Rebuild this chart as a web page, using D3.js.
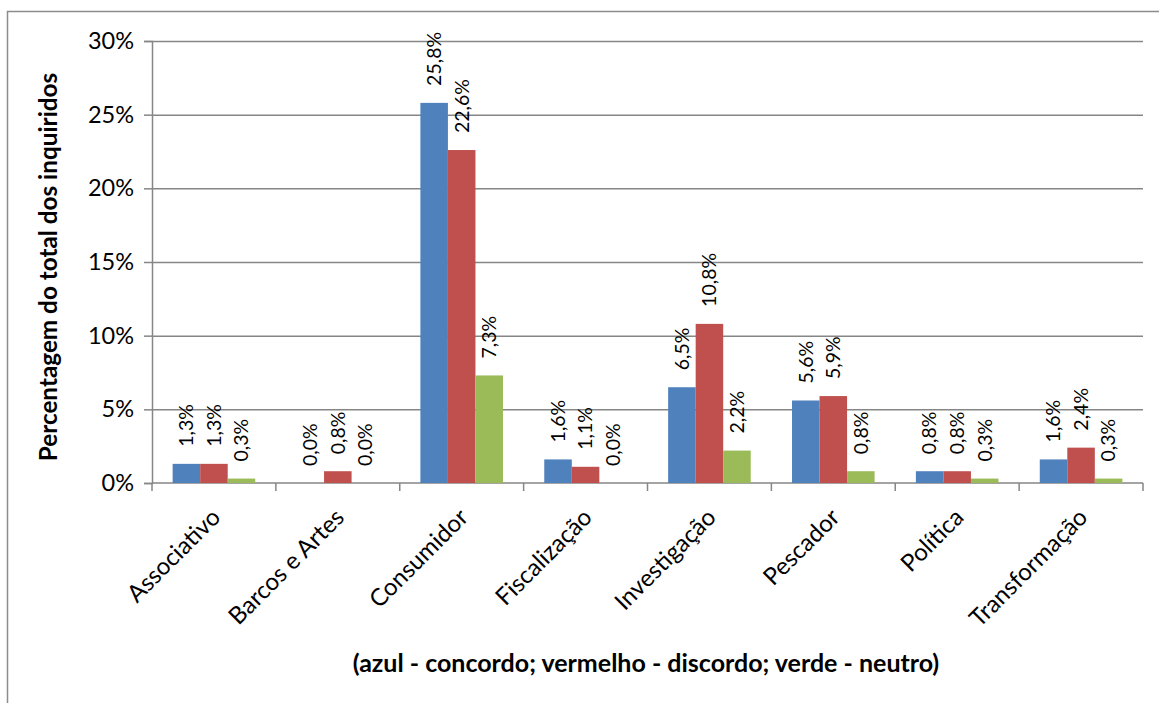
<!DOCTYPE html>
<html>
<head>
<meta charset="utf-8">
<script src="https://cdn.jsdelivr.net/npm/d3@7"></script>
<style>
  body { margin: 0; background: #fff; }
  svg { display: block; font-family: Lato, "Open Sans", sans-serif; }
</style>
</head>
<body>
<div id="chart"></div>
<script>
// categories and the three answers (percent of respondents)
var categories = ["Associativo", "Barcos e Artes", "Consumidor", "Fiscalização",
                  "Investigação", "Pescador", "Política", "Transformação"];
var concordo  = [1.3, 0.0, 25.8, 1.6, 6.5, 5.6, 0.8, 1.6];
var discordo  = [1.3, 0.8, 22.6, 1.1, 10.8, 5.9, 0.8, 2.4];
var neutro    = [0.3, 0.0, 7.3, 0.0, 2.2, 0.8, 0.3, 0.3];
var yTicks = [0, 5, 10, 15, 20, 25, 30];

var series = [
  {name: "concordo", values: concordo, color: "#4F81BD"},
  {name: "discordo", values: discordo, color: "#C0504D"},
  {name: "neutro", values: neutro, color: "#9BBB59"}
];

const width = 1159, height = 703;
const plotLeft = 152, plotRight = 1143, plotTop = 41, plotBottom = 483;

var svg = d3.select("#chart").append("svg")
  .attr("width", width)
  .attr("height", height);

// outer frame (only left and top visible in the picture)
svg.append("rect")
  .attr("x", 7.5).attr("y", 11.5)
  .attr("width", 1200).attr("height", 800)
  .attr("fill", "none")
  .attr("stroke", "#8c8c8c")
  .attr("stroke-width", 1.5);

var x = d3.scaleBand().domain(categories).range([plotLeft, plotRight]);
// gap width 150% -> bars take 3/(3+1.5) of band
var x1 = d3.scaleBand().domain(series.map(s => s.name))
  .range([0, x.bandwidth()]).paddingOuter(0.75).paddingInner(0);
var y = d3.scaleLinear().domain([0, 30]).range([plotBottom, plotTop]);

// gridlines + y axis
var yAxis = svg.append("g")
  .attr("transform", "translate(" + plotLeft + ",0)")
  .call(d3.axisLeft(y).tickValues(yTicks).tickSize(8).tickPadding(10)
    .tickFormat(d => d + "%"));
yAxis.select(".domain").attr("stroke", "#868686").attr("stroke-width", 1.5);
yAxis.selectAll(".tick line").attr("stroke", "#868686").attr("stroke-width", 1.5);
yAxis.selectAll(".tick text")
  .attr("fill", "#000")
  .style("font-size", "23.5px")
  .style("font-family", "Lato, sans-serif");
yAxis.selectAll(".tick").filter(d => d > 0).append("line")
  .attr("x1", 0).attr("x2", plotRight - plotLeft)
  .attr("stroke", "#868686").attr("stroke-width", 1.5);

// x axis
var xAxis = svg.append("g")
  .attr("transform", "translate(0," + plotBottom + ")");
xAxis.append("line")
  .attr("x1", plotLeft).attr("x2", plotRight)
  .attr("stroke", "#868686").attr("stroke-width", 1.5);
xAxis.selectAll(".xt")
  .data(d3.range(categories.length + 1))
  .enter().append("line")
  .attr("x1", i => plotLeft + i * x.step())
  .attr("x2", i => plotLeft + i * x.step())
  .attr("y1", 0).attr("y2", 8)
  .attr("stroke", "#868686").attr("stroke-width", 1.5);
xAxis.selectAll(".xl")
  .data(categories)
  .enter().append("text")
  .attr("transform", d => "translate(" + (x(d) + x.bandwidth() / 2 - 4) + ",24) rotate(-45)")
  .attr("text-anchor", "end")
  .attr("dy", "0.7em")
  .style("font-size", "24px")
  .text(d => d);

// bars
var groups = svg.selectAll(".serie")
  .data(series)
  .enter().append("g");

groups.selectAll("rect")
  .data(s => s.values.map((v, i) => ({s: s, v: v, c: categories[i]})))
  .enter().append("rect")
  .attr("x", d => x(d.c) + x1(d.s.name))
  .attr("y", d => y(d.v))
  .attr("width", x1.bandwidth())
  .attr("height", d => y(0) - y(d.v))
  .attr("fill", d => d.s.color);

// value labels, rotated
groups.selectAll("text")
  .data(s => s.values.map((v, i) => ({s: s, v: v, c: categories[i]})))
  .enter().append("text")
  .attr("transform", d => "translate(" + (x(d.c) + x1(d.s.name) + x1.bandwidth() / 2) +
        "," + (y(d.v) - 17) + ") rotate(-90)")
  .attr("dy", "0.35em")
  .attr("text-anchor", "start")
  .style("font-size", "19.5px")
  .text(d => d.v.toFixed(1).replace(".", ",") + "%");

// axis titles
svg.append("text")
  .attr("transform", "translate(48," + ((plotTop + plotBottom) / 2 + 5) + ") rotate(-90)")
  .attr("dy", "0.35em")
  .attr("text-anchor", "middle")
  .style("font-size", "24.3px")
  .style("font-weight", "bold")
  .text("Percentagem do total dos inquiridos");

svg.append("text")
  .attr("x", 646).attr("y", 672)
  .attr("text-anchor", "middle")
  .style("font-size", "25px")
  .style("font-weight", "bold")
  .text("(azul - concordo; vermelho - discordo; verde - neutro)");
</script>
</body>
</html>
